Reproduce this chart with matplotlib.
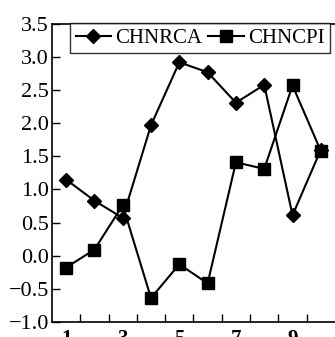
import numpy as np
import matplotlib.pyplot as plt

plt.rcParams['font.family'] = ['Liberation Serif', 'DejaVu Serif']

# Data
x = np.arange(1, 11)
chnrca = [1.15, 0.83, 0.57, 1.97, 2.92, 2.77, 2.31, 2.58, 0.61, 1.60]
chncpi = [-0.18, 0.09, 0.76, -0.64, -0.13, -0.42, 1.41, 1.31, 2.57, 1.58]
xlabels = ['1', '3', '5', '7', '9']

fig = plt.figure(figsize=(3.35, 3.37), dpi=100)
ax = fig.add_axes([0.155, 0.045, 0.845, 0.884])

ax.plot(x, chnrca, '-D', color='black', lw=1.5, ms=7, label='CHNRCA')
ax.plot(x, chncpi, '-s', color='black', lw=1.5, ms=8.5, label='CHNCPI')

ax.set_xlim(0.5, 10.5)
ax.set_ylim(-1.0, 3.5)
yt = np.arange(-1.0, 3.51, 0.5)
ax.set_yticks(yt)
ax.set_yticklabels(['%.1f' % v if v >= 0 else '\u2212%.1f' % -v for v in yt])

# ticks sit between categories, labels on odd categories
ax.set_xticks(np.arange(1.5, 10.5, 1.0))
ax.set_xticklabels([])
ax.set_xticks([1, 3, 5, 7, 9], minor=True)
ax.set_xticklabels(xlabels, minor=True, fontweight='bold')
ax.tick_params(axis='x', which='minor', length=0, pad=5, labelsize=15)
ax.tick_params(axis='x', which='major', direction='in', length=6, width=1)
ax.tick_params(axis='y', direction='in', length=6, width=1, labelsize=16, pad=2)

ax.spines['right'].set_visible(False)
for s in ['left', 'bottom', 'top']:
    ax.spines[s].set_linewidth(1.2)

leg = ax.legend(loc='upper right', bbox_to_anchor=(0.982, 1.003), ncol=2,
                frameon=True, fancybox=False, edgecolor='black', fontsize=15,
                handlelength=1.7, handletextpad=0.2, columnspacing=0.3,
                borderpad=0.25, borderaxespad=0)
leg.get_frame().set_linewidth(1.0)

fig.savefig('out.png', dpi=100)
